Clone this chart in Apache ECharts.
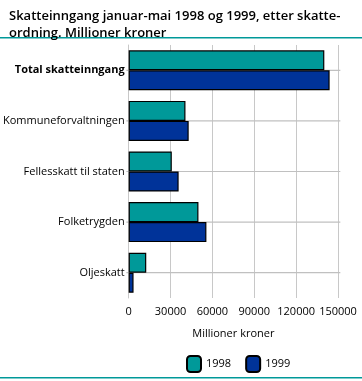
<!DOCTYPE html>
<html><head><meta charset="utf-8">
<script src="https://cdn.jsdelivr.net/npm/echarts@6/dist/echarts.min.js"></script>
<style>html,body{margin:0;padding:0;background:#fff}#c{width:362px;height:381px}</style>
</head><body><div id="c"></div>
<script>
const categories = ["Total skatteinngang", "Kommuneforvaltningen", "Fellesskatt til staten", "Folketrygden", "Oljeskatt"];
const values1998 = [140200, 40700, 30900, 50000, 12600];
const values1999 = [144000, 43000, 35800, 55700, 3500];
const xTicks = [0, 30000, 60000, 90000, 120000, 150000];
const seriesNames = ["1998", "1999"];

const chart = echarts.init(document.getElementById('c'));
const font = "'Open Sans', sans-serif";
const xMin = xTicks[0], xMax = xTicks[xTicks.length - 1];
chart.setOption({
  animation: false,
  title: {
    text: "Skatteinngang januar-mai 1998 og 1999, etter skatte-\nordning. Millioner kroner",
    left: 4, top: 3,
    textStyle: {fontFamily: font, fontSize: 13, fontWeight: 600, color: '#000', lineHeight: 17}
  },
  graphic: [
    {type: 'rect', shape: {x: 0, y: 37, width: 362, height: 1.5}, style: {fill: '#009999'}},
    {type: 'rect', shape: {x: 0, y: 377, width: 362, height: 1.5}, style: {fill: '#009999'}}
  ],
  legend: {
    data: seriesNames,
    left: 181, top: 350,
    itemWidth: 14, itemHeight: 16, itemGap: 14,
    textStyle: {fontFamily: font, fontSize: 11, color: '#000'}
  },
  grid: {left: 124, right: 24, top: 45, bottom: 83},
  xAxis: {
    type: 'value', min: xMin, max: xMax, interval: 30000,
    name: 'Millioner kroner', nameLocation: 'middle', nameGap: 30,
    nameTextStyle: {fontFamily: font, fontSize: 11, color: '#000'},
    axisLine: {show: false}, axisTick: {show: false},
    axisLabel: {fontFamily: font, fontSize: 11, color: '#000', margin: 8, formatter: v => String(v)},
    splitLine: {lineStyle: {color: '#c8c8c8', width: 1}}
  },
  yAxis: {
    type: 'category', data: categories, inverse: true,
    axisLine: {show: true, lineStyle: {color: '#c8c8c8', width: 1}},
    axisTick: {show: false},
    splitLine: {show: false},
    axisLabel: {
      fontFamily: font, fontSize: 11, color: '#000', margin: 4,
      formatter: (v, i) => i === 0 ? '{b|' + v + '}' : v,
      rich: {b: {fontFamily: font, fontSize: 11, fontWeight: 'bold', color: '#000'}}
    }
  },
  series: [
    {name: 'gridlines', type: 'scatter', z: 1, silent: true,
     data: categories.map((c, i) => [(xMin + xMax) / 2, i]),
     symbol: 'rect', symbolSize: [214, 1.2],
     itemStyle: {color: '#c0c0c0', opacity: 1},
     emphasis: {disabled: true}},
    {name: seriesNames[0], type: 'bar', data: values1998, barGap: '0%', barCategoryGap: '21%', z: 3,
     itemStyle: {color: '#009999', borderColor: '#000', borderWidth: 1.2}},
    {name: seriesNames[1], type: 'bar', data: values1999, z: 3,
     itemStyle: {color: '#003399', borderColor: '#000', borderWidth: 1.2}}
  ]
});
</script></body></html>
